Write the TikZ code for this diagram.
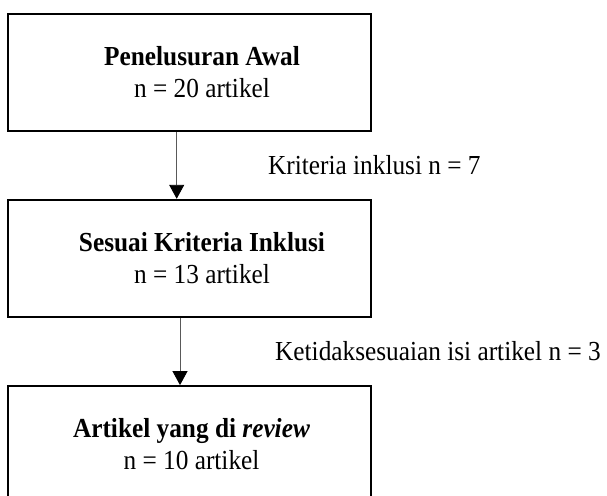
\documentclass[tikz,border=0pt]{standalone}
\usepackage{fontspec}
\setmainfont{Liberation Serif}[FakeStretch=0.92]
\usepackage{tikz}
\usetikzlibrary{arrows.meta}

\begin{document}
\begin{tikzpicture}[x=1pt, y=-1pt,
    kotak/.style={draw, line width=1.8pt, minimum width=363pt, minimum height=117pt, inner sep=0pt},
    isi/.style={align=center, font=\fontsize{27.5}{32}\selectfont},
    ket/.style={font=\fontsize{27.5}{32}\selectfont, anchor=base west, inner sep=0pt},
    panah/.style={draw=black!65, line width=0.9pt, -{Triangle[length=14pt, width=15pt, color=black]}}]

% Batas gambar
\useasboundingbox (0,0) rectangle (607,495);

% Kotak-kotak
\node[kotak] (awal) at (189.5,72.5) {};
\node[kotak] (sesuai) at (189.5,258.2) {};
\node[kotak] (review) at (189.5,444.5) {};

% Isi kotak
\node[isi] (awalT) at ([xshift=12.5pt]awal.center) {\textbf{Penelusuran Awal}\\ n = 20 artikel};
\node[isi] (sesuaiT) at ([xshift=12.5pt]sesuai.center) {\textbf{Sesuai Kriteria Inklusi}\\ n = 13 artikel};
\node[isi] (reviewT) at ([xshift=2pt]review.center) {\textbf{Artikel yang di \textit{review}}\\ n = 10 artikel};

% Panah
\draw[panah] ([xshift=-12.8pt]awal.south) -- ([xshift=-12.8pt]sesuai.north);
\draw[panah] ([xshift=-9.5pt]sesuai.south) -- ([xshift=-9.5pt]review.north);

% Keterangan
\node[ket] (inklusi) at (268,174) {Kriteria inklusi n = 7};
\node[ket] (tidak) at (275,360) {Ketidaksesuaian isi artikel n = 3};

\end{tikzpicture}
\end{document}
